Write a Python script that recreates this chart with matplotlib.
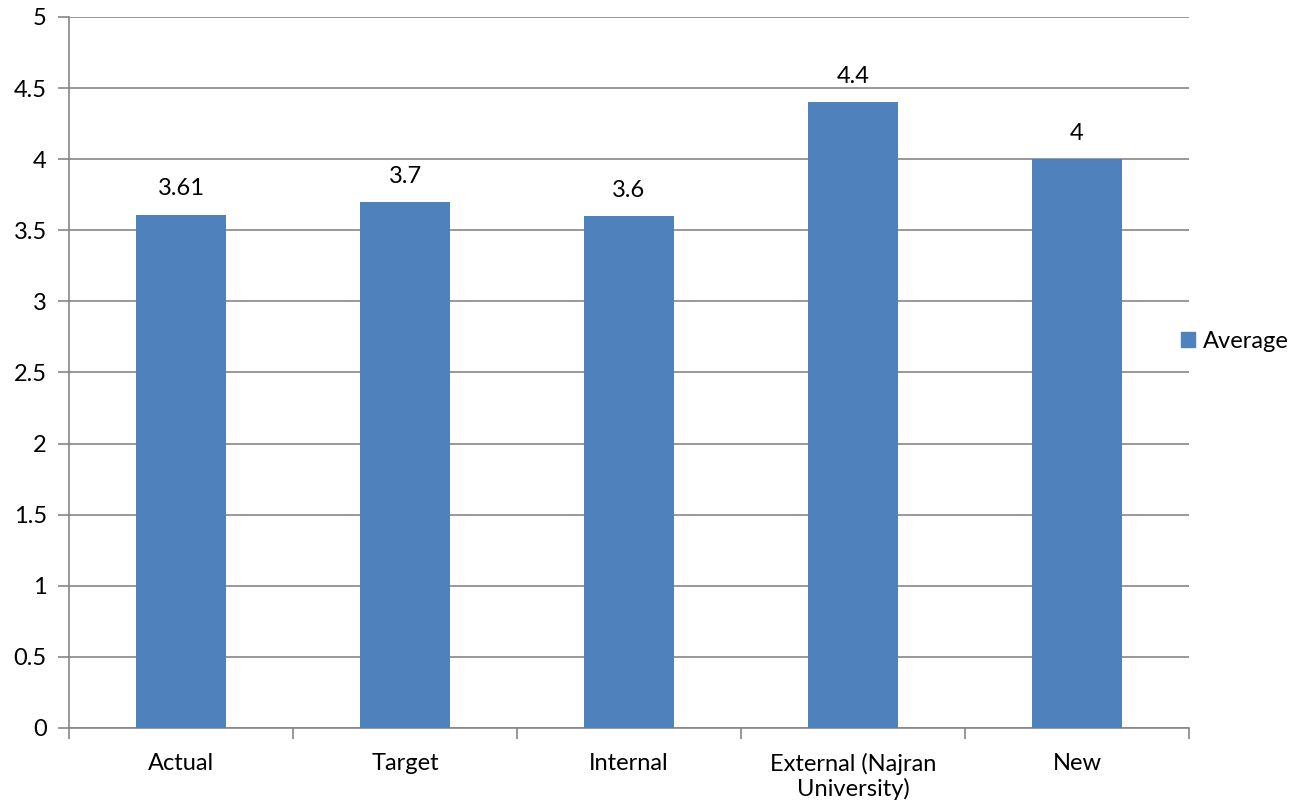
import matplotlib
matplotlib.use("Agg")
import matplotlib.pyplot as plt
from matplotlib.patches import Patch

# Average score per comparison group
categories = ["Actual", "Target", "Internal", "External (Najran\nUniversity)", "New"]
averages = [3.61, 3.7, 3.6, 4.4, 4]
value_labels = ["3.61", "3.7", "3.6", "4.4", "4"]

bar_color = "#4F81BD"
axis_color = "#868686"

plt.rcParams["font.family"] = ["Lato", "DejaVu Sans"]
plt.rcParams["font.size"] = 17

fig = plt.figure(figsize=(12.99, 8.08), dpi=100)
ax = fig.add_axes([69 / 1299, 1 - 728 / 808, 1120 / 1299, 711 / 808])

x = list(range(len(categories)))
bars = ax.bar(x, averages, width=0.4, color=bar_color, zorder=3)

# value labels above each bar
for rect, lab in zip(bars, value_labels):
    ax.annotate(lab, (rect.get_x() + rect.get_width() / 2, rect.get_height()),
                xytext=(0, 11), textcoords="offset points",
                ha="center", va="bottom", fontsize=17, color="black")

ax.set_xlim(-0.5, len(categories) - 0.5)
ax.set_ylim(0, 5)
ax.set_yticks([0, 0.5, 1, 1.5, 2, 2.5, 3, 3.5, 4, 4.5, 5])
ax.set_yticklabels(["0", "0.5", "1", "1.5", "2", "2.5", "3", "3.5", "4", "4.5", "5"])
ax.yaxis.grid(True, color=axis_color, linewidth=1.2, zorder=0)
ax.set_axisbelow(True)

# category names centred, tick marks between categories
ax.set_xticks(x)
ax.set_xticklabels(categories, linespacing=1.15)
ax.tick_params(axis="x", length=0, pad=18)
ax.set_xticks([i - 0.5 for i in range(len(categories) + 1)], minor=True)
ax.tick_params(axis="x", which="minor", length=8, color=axis_color, width=1.2)
ax.tick_params(axis="y", length=8, color=axis_color, width=1.2, pad=8)

for side in ["top", "right"]:
    ax.spines[side].set_visible(False)
for side in ["left", "bottom"]:
    ax.spines[side].set_color(axis_color)
    ax.spines[side].set_linewidth(1.2)

fig.legend(handles=[Patch(color=bar_color, label="Average")],
           loc="center left", bbox_to_anchor=(1160 / 1299, 1 - 341 / 808),
           frameon=False, handlelength=0.6, handleheight=0.6,
           handletextpad=0.3, fontsize=17)

fig.savefig("out.png", dpi=100)
